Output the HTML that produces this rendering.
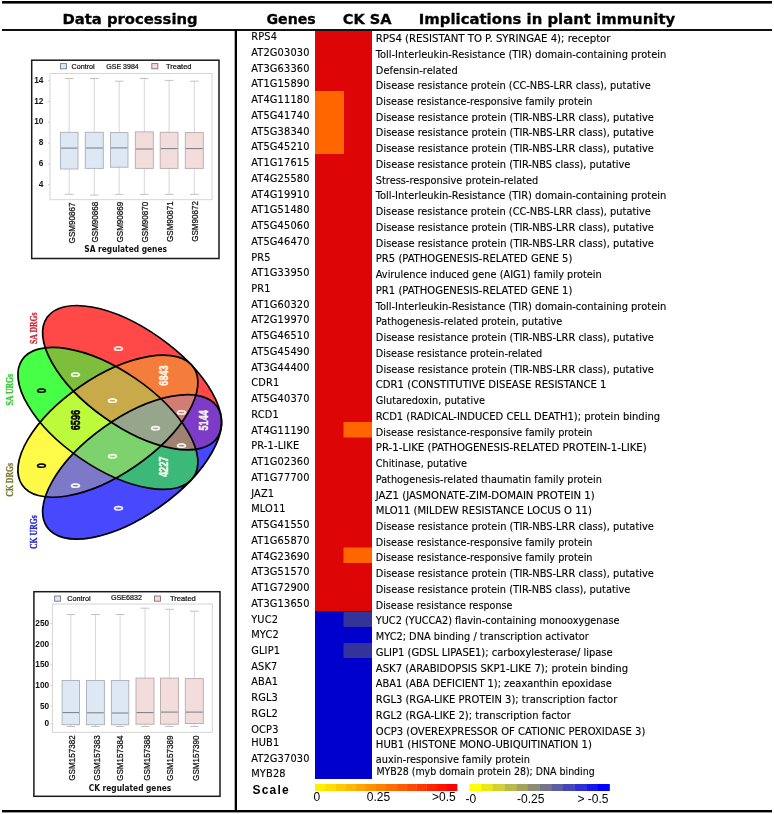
<!DOCTYPE html><html><head><meta charset="utf-8"><title>Figure</title><style>
html,body{margin:0;padding:0;background:#fff;}body{width:774px;height:814px;overflow:hidden;position:relative;}
svg{position:absolute;left:0;top:0;display:block;}
.gn{font-family:"DejaVu Sans Condensed","DejaVu Sans",sans-serif;font-size:10.9px;fill:#000;stroke:#000;stroke-width:0.12px;letter-spacing:0.18px;}
.ds{font-family:"DejaVu Sans Condensed","DejaVu Sans",sans-serif;font-size:10.9px;fill:#000;stroke:#000;stroke-width:0.12px;}
.hd{font-family:"DejaVu Sans",sans-serif;font-weight:bold;font-size:14.6px;fill:#000;stroke:#000;stroke-width:0.3px;}
.bp{font-family:"Liberation Sans",Arial,sans-serif;fill:#111;}
</style></head><body>
<svg width="774" height="814" viewBox="0 0 774 814">
<rect width="774" height="814" fill="#fff"/>
<rect x="315" y="30" width="57" height="581" fill="#DD0505"/>
<rect x="315" y="611" width="57" height="168" fill="#0000CC"/>
<rect x="315" y="91" width="29" height="63" fill="#FF6600"/>
<rect x="343.5" y="422" width="28.5" height="15.5" fill="#FF6600"/>
<rect x="343.5" y="547.5" width="28.5" height="15.5" fill="#FF6600"/>
<rect x="343.5" y="612" width="28.5" height="15" fill="#333399"/>
<rect x="343.5" y="643" width="28.5" height="15" fill="#333399"/>
<rect x="2" y="1" width="770" height="2.6" fill="#000"/>
<rect x="2" y="29" width="770" height="2" fill="#111"/>
<rect x="2" y="810" width="770" height="2.4" fill="#000"/>
<rect x="234.7" y="30" width="2.3" height="781" fill="#000"/>
<text class="hd" x="62.4" y="23.9" textLength="135.2" lengthAdjust="spacingAndGlyphs">Data processing</text>
<text class="hd" x="266.5" y="23.8" textLength="49.2" lengthAdjust="spacingAndGlyphs">Genes</text>
<text class="hd" x="342.8" y="23.8" textLength="48.8" lengthAdjust="spacingAndGlyphs">CK SA</text>
<text class="hd" x="418.8" y="23.8" textLength="256.4" lengthAdjust="spacingAndGlyphs">Implications in plant immunity</text>
<text class="gn" x="251.2" y="40.1">RPS4</text>
<text class="ds" x="375.8" y="42.0" textLength="234.7" lengthAdjust="spacingAndGlyphs">RPS4 (RESISTANT TO P. SYRINGAE 4); receptor</text>
<text class="gn" x="251.2" y="55.8">AT2G03030</text>
<text class="ds" x="375.8" y="57.7" textLength="290.5" lengthAdjust="spacingAndGlyphs">Toll-Interleukin-Resistance (TIR) domain-containing protein</text>
<text class="gn" x="251.2" y="71.6">AT3G63360</text>
<text class="ds" x="375.8" y="73.5" textLength="81.9" lengthAdjust="spacingAndGlyphs">Defensin-related</text>
<text class="gn" x="251.2" y="87.3">AT1G15890</text>
<text class="ds" x="375.8" y="89.2" textLength="275.0" lengthAdjust="spacingAndGlyphs">Disease resistance protein (CC-NBS-LRR class), putative</text>
<text class="gn" x="251.2" y="103.1">AT4G11180</text>
<text class="ds" x="375.8" y="105.0" textLength="216.7" lengthAdjust="spacingAndGlyphs">Disease resistance-responsive family protein</text>
<text class="gn" x="251.2" y="118.8">AT5G41740</text>
<text class="ds" x="375.8" y="120.7" textLength="278.1" lengthAdjust="spacingAndGlyphs">Disease resistance protein (TIR-NBS-LRR class), putative</text>
<text class="gn" x="251.2" y="134.5">AT5G38340</text>
<text class="ds" x="375.8" y="136.4" textLength="278.1" lengthAdjust="spacingAndGlyphs">Disease resistance protein (TIR-NBS-LRR class), putative</text>
<text class="gn" x="251.2" y="150.3">AT5G45210</text>
<text class="ds" x="375.8" y="152.2" textLength="278.1" lengthAdjust="spacingAndGlyphs">Disease resistance protein (TIR-NBS-LRR class), putative</text>
<text class="gn" x="251.2" y="166.0">AT1G17615</text>
<text class="ds" x="375.8" y="167.9" textLength="254.6" lengthAdjust="spacingAndGlyphs">Disease resistance protein (TIR-NBS class), putative</text>
<text class="gn" x="251.2" y="181.8">AT4G25580</text>
<text class="ds" x="375.8" y="183.7" textLength="162.5" lengthAdjust="spacingAndGlyphs">Stress-responsive protein-related</text>
<text class="gn" x="251.2" y="197.5">AT4G19910</text>
<text class="ds" x="375.8" y="199.4" textLength="290.5" lengthAdjust="spacingAndGlyphs">Toll-Interleukin-Resistance (TIR) domain-containing protein</text>
<text class="gn" x="251.2" y="213.2">AT1G51480</text>
<text class="ds" x="375.8" y="215.1" textLength="275.0" lengthAdjust="spacingAndGlyphs">Disease resistance protein (CC-NBS-LRR class), putative</text>
<text class="gn" x="251.2" y="229.0">AT5G45060</text>
<text class="ds" x="375.8" y="230.9" textLength="278.1" lengthAdjust="spacingAndGlyphs">Disease resistance protein (TIR-NBS-LRR class), putative</text>
<text class="gn" x="251.2" y="244.7">AT5G46470</text>
<text class="ds" x="375.8" y="246.6" textLength="278.1" lengthAdjust="spacingAndGlyphs">Disease resistance protein (TIR-NBS-LRR class), putative</text>
<text class="gn" x="251.2" y="260.5">PR5</text>
<text class="ds" x="375.8" y="262.4" textLength="196.6" lengthAdjust="spacingAndGlyphs">PR5 (PATHOGENESIS-RELATED GENE 5)</text>
<text class="gn" x="251.2" y="276.2">AT1G33950</text>
<text class="ds" x="375.8" y="278.1" textLength="226.0" lengthAdjust="spacingAndGlyphs">Avirulence induced gene (AIG1) family protein</text>
<text class="gn" x="251.2" y="291.9">PR1</text>
<text class="ds" x="375.8" y="293.8" textLength="196.6" lengthAdjust="spacingAndGlyphs">PR1 (PATHOGENESIS-RELATED GENE 1)</text>
<text class="gn" x="251.2" y="307.7">AT1G60320</text>
<text class="ds" x="375.8" y="309.6" textLength="290.5" lengthAdjust="spacingAndGlyphs">Toll-Interleukin-Resistance (TIR) domain-containing protein</text>
<text class="gn" x="251.2" y="323.4">AT2G19970</text>
<text class="ds" x="375.8" y="325.3" textLength="186.4" lengthAdjust="spacingAndGlyphs">Pathogenesis-related protein, putative</text>
<text class="gn" x="251.2" y="339.2">AT5G46510</text>
<text class="ds" x="375.8" y="341.1" textLength="278.1" lengthAdjust="spacingAndGlyphs">Disease resistance protein (TIR-NBS-LRR class), putative</text>
<text class="gn" x="251.2" y="354.9">AT5G45490</text>
<text class="ds" x="375.8" y="356.8" textLength="166.5" lengthAdjust="spacingAndGlyphs">Disease resistance protein-related</text>
<text class="gn" x="251.2" y="370.6">AT3G44400</text>
<text class="ds" x="375.8" y="372.5" textLength="278.1" lengthAdjust="spacingAndGlyphs">Disease resistance protein (TIR-NBS-LRR class), putative</text>
<text class="gn" x="251.2" y="386.4">CDR1</text>
<text class="ds" x="375.8" y="388.3" textLength="230.7" lengthAdjust="spacingAndGlyphs">CDR1 (CONSTITUTIVE DISEASE RESISTANCE 1</text>
<text class="gn" x="251.2" y="402.1">AT5G40370</text>
<text class="ds" x="375.8" y="404.0" textLength="109.1" lengthAdjust="spacingAndGlyphs">Glutaredoxin, putative</text>
<text class="gn" x="251.2" y="417.9">RCD1</text>
<text class="ds" x="375.8" y="419.8" textLength="284.3" lengthAdjust="spacingAndGlyphs">RCD1 (RADICAL-INDUCED CELL DEATH1); protein binding</text>
<text class="gn" x="251.2" y="433.6">AT4G11190</text>
<text class="ds" x="375.8" y="435.5" textLength="216.7" lengthAdjust="spacingAndGlyphs">Disease resistance-responsive family protein</text>
<text class="gn" x="251.2" y="449.3">PR-1-LIKE</text>
<text class="ds" x="375.8" y="451.2" textLength="271.0" lengthAdjust="spacingAndGlyphs">PR-1-LIKE (PATHOGENESIS-RELATED PROTEIN-1-LIKE)</text>
<text class="gn" x="251.2" y="465.1">AT1G02360</text>
<text class="ds" x="375.8" y="467.0" textLength="91.2" lengthAdjust="spacingAndGlyphs">Chitinase, putative</text>
<text class="gn" x="251.2" y="480.8">AT1G77700</text>
<text class="ds" x="375.8" y="482.7" textLength="226.0" lengthAdjust="spacingAndGlyphs">Pathogenesis-related thaumatin family protein</text>
<text class="gn" x="251.2" y="496.6">JAZ1</text>
<text class="ds" x="375.8" y="498.5" textLength="218.9" lengthAdjust="spacingAndGlyphs">JAZ1 (JASMONATE-ZIM-DOMAIN PROTEIN 1)</text>
<text class="gn" x="251.2" y="512.3">MLO11</text>
<text class="ds" x="375.8" y="514.2" textLength="216.1" lengthAdjust="spacingAndGlyphs">MLO11 (MILDEW RESISTANCE LOCUS O 11)</text>
<text class="gn" x="251.2" y="528.0">AT5G41550</text>
<text class="ds" x="375.8" y="529.9" textLength="278.1" lengthAdjust="spacingAndGlyphs">Disease resistance protein (TIR-NBS-LRR class), putative</text>
<text class="gn" x="251.2" y="543.8">AT1G65870</text>
<text class="ds" x="375.8" y="545.7" textLength="216.7" lengthAdjust="spacingAndGlyphs">Disease resistance-responsive family protein</text>
<text class="gn" x="251.2" y="559.5">AT4G23690</text>
<text class="ds" x="375.8" y="561.4" textLength="216.7" lengthAdjust="spacingAndGlyphs">Disease resistance-responsive family protein</text>
<text class="gn" x="251.2" y="575.3">AT3G51570</text>
<text class="ds" x="375.8" y="577.2" textLength="278.1" lengthAdjust="spacingAndGlyphs">Disease resistance protein (TIR-NBS-LRR class), putative</text>
<text class="gn" x="251.2" y="591.0">AT1G72900</text>
<text class="ds" x="375.8" y="592.9" textLength="254.6" lengthAdjust="spacingAndGlyphs">Disease resistance protein (TIR-NBS class), putative</text>
<text class="gn" x="251.2" y="606.7">AT3G13650</text>
<text class="ds" x="375.8" y="608.6" textLength="136.7" lengthAdjust="spacingAndGlyphs">Disease resistance response</text>
<text class="gn" x="251.2" y="622.5">YUC2</text>
<text class="ds" x="375.8" y="624.4" textLength="243.7" lengthAdjust="spacingAndGlyphs">YUC2 (YUCCA2) flavin-containing monooxygenase</text>
<text class="gn" x="251.2" y="638.2">MYC2</text>
<text class="ds" x="375.8" y="640.1" textLength="213.0" lengthAdjust="spacingAndGlyphs">MYC2; DNA binding / transcription activator</text>
<text class="gn" x="251.2" y="654.0">GLIP1</text>
<text class="ds" x="375.8" y="655.9" textLength="236.9" lengthAdjust="spacingAndGlyphs">GLIP1 (GDSL LIPASE1); carboxylesterase/ lipase</text>
<text class="gn" x="251.2" y="669.7">ASK7</text>
<text class="ds" x="375.8" y="671.6" textLength="252.4" lengthAdjust="spacingAndGlyphs">ASK7 (ARABIDOPSIS SKP1-LIKE 7); protein binding</text>
<text class="gn" x="251.2" y="685.4">ABA1</text>
<text class="ds" x="375.8" y="687.3" textLength="236.0" lengthAdjust="spacingAndGlyphs">ABA1 (ABA DEFICIENT 1); zeaxanthin epoxidase</text>
<text class="gn" x="251.2" y="701.2">RGL3</text>
<text class="ds" x="375.8" y="703.1" textLength="241.5" lengthAdjust="spacingAndGlyphs">RGL3 (RGA-LIKE PROTEIN 3); transcription factor</text>
<text class="gn" x="251.2" y="716.9">RGL2</text>
<text class="ds" x="375.8" y="718.8" textLength="195.0" lengthAdjust="spacingAndGlyphs">RGL2 (RGA-LIKE 2); transcription factor</text>
<text class="gn" x="251.2" y="732.7">OCP3</text>
<text class="ds" x="375.8" y="734.6" textLength="269.5" lengthAdjust="spacingAndGlyphs">OCP3 (OVEREXPRESSOR OF CATIONIC PEROXIDASE 3)</text>
<text class="gn" x="251.2" y="745.7">HUB1</text>
<text class="ds" x="375.8" y="747.5" textLength="216.1" lengthAdjust="spacingAndGlyphs">HUB1 (HISTONE MONO-UBIQUITINATION 1)</text>
<text class="gn" x="251.2" y="761.8">AT2G37030</text>
<text class="ds" x="375.8" y="762.6" textLength="154.1" lengthAdjust="spacingAndGlyphs">auxin-responsive family protein</text>
<text class="gn" x="251.2" y="777.0">MYB28</text>
<text class="ds" x="376.4" y="775.4" textLength="218.3" lengthAdjust="spacingAndGlyphs">MYB28 (myb domain protein 28); DNA binding</text>
<text x="252.5" y="794" style="font-family:'Liberation Sans',Arial,sans-serif;font-weight:bold;font-size:12px;letter-spacing:1.2px" fill="#000">Scale</text>
<rect x="315.00" y="784" width="10.44" height="7" fill="#FFF000"/>
<rect x="325.14" y="784" width="10.44" height="7" fill="#FFDE00"/>
<rect x="335.29" y="784" width="10.44" height="7" fill="#FFCB00"/>
<rect x="345.43" y="784" width="10.44" height="7" fill="#FFB900"/>
<rect x="355.57" y="784" width="10.44" height="7" fill="#FFA600"/>
<rect x="365.71" y="784" width="10.44" height="7" fill="#FF9400"/>
<rect x="375.86" y="784" width="10.44" height="7" fill="#FF8100"/>
<rect x="386.00" y="784" width="10.44" height="7" fill="#FF6F00"/>
<rect x="396.14" y="784" width="10.44" height="7" fill="#FF5C00"/>
<rect x="406.29" y="784" width="10.44" height="7" fill="#FF4A00"/>
<rect x="416.43" y="784" width="10.44" height="7" fill="#FF3700"/>
<rect x="426.57" y="784" width="10.44" height="7" fill="#FF2500"/>
<rect x="436.71" y="784" width="10.44" height="7" fill="#FF1200"/>
<rect x="446.86" y="784" width="10.44" height="7" fill="#FF0000"/>
<rect x="469.50" y="784" width="11.97" height="7" fill="#FFFF00"/>
<rect x="481.17" y="784" width="11.97" height="7" fill="#E8E817"/>
<rect x="492.83" y="784" width="11.97" height="7" fill="#D1D12F"/>
<rect x="504.50" y="784" width="11.97" height="7" fill="#BABA46"/>
<rect x="516.17" y="784" width="11.97" height="7" fill="#A3A35D"/>
<rect x="527.83" y="784" width="11.97" height="7" fill="#8C8C74"/>
<rect x="539.50" y="784" width="11.97" height="7" fill="#74748C"/>
<rect x="551.17" y="784" width="11.97" height="7" fill="#5D5DA3"/>
<rect x="562.83" y="784" width="11.97" height="7" fill="#4646BA"/>
<rect x="574.50" y="784" width="11.97" height="7" fill="#2F2FD1"/>
<rect x="586.17" y="784" width="11.97" height="7" fill="#1717E8"/>
<rect x="597.83" y="784" width="11.97" height="7" fill="#0000FF"/>
<text x="313.5" y="801" style="font-family:'Liberation Sans',Arial,sans-serif;font-size:12px">0</text>
<text x="366.8" y="801" style="font-family:'Liberation Sans',Arial,sans-serif;font-size:12px">0.25</text>
<text x="432" y="801" style="font-family:'Liberation Sans',Arial,sans-serif;font-size:12px">&gt;0.5</text>
<text x="465.5" y="802.8" style="font-family:'Liberation Sans',Arial,sans-serif;font-size:12px">-0</text>
<text x="517" y="802.8" style="font-family:'Liberation Sans',Arial,sans-serif;font-size:12px">-0.25</text>
<text x="577.5" y="802.8" style="font-family:'Liberation Sans',Arial,sans-serif;font-size:12px">&gt; -0.5</text>
<rect x="31.7" y="60.2" width="187.3" height="198.3" fill="#fff" stroke="#1a1a1a" stroke-width="1.5"/>
<rect x="50.0" y="73.5" width="162.0" height="126.2" fill="none" stroke="#d4d4d4" stroke-width="1"/>
<text class="bp" x="43.4" y="82.7" text-anchor="end" style="font-size:8.3px;font-weight:bold">14</text>
<line x1="48.0" y1="80.7" x2="50.0" y2="80.7" stroke="#ccc" stroke-width="0.8"/>
<text class="bp" x="43.4" y="103.5" text-anchor="end" style="font-size:8.3px;font-weight:bold">12</text>
<line x1="48.0" y1="101.5" x2="50.0" y2="101.5" stroke="#ccc" stroke-width="0.8"/>
<text class="bp" x="43.4" y="124.3" text-anchor="end" style="font-size:8.3px;font-weight:bold">10</text>
<line x1="48.0" y1="122.3" x2="50.0" y2="122.3" stroke="#ccc" stroke-width="0.8"/>
<text class="bp" x="43.4" y="145.1" text-anchor="end" style="font-size:8.3px;font-weight:bold">8</text>
<line x1="48.0" y1="143.1" x2="50.0" y2="143.1" stroke="#ccc" stroke-width="0.8"/>
<text class="bp" x="43.4" y="165.9" text-anchor="end" style="font-size:8.3px;font-weight:bold">6</text>
<line x1="48.0" y1="163.9" x2="50.0" y2="163.9" stroke="#ccc" stroke-width="0.8"/>
<text class="bp" x="43.4" y="186.7" text-anchor="end" style="font-size:8.3px;font-weight:bold">4</text>
<line x1="48.0" y1="184.7" x2="50.0" y2="184.7" stroke="#ccc" stroke-width="0.8"/>
<line x1="69.2" y1="78.5" x2="69.2" y2="194.4" stroke="#d2d2d2" stroke-width="0.9"/>
<line x1="65.0" y1="78.5" x2="73.5" y2="78.5" stroke="#bbb" stroke-width="0.9"/>
<line x1="65.0" y1="194.4" x2="73.5" y2="194.4" stroke="#bbb" stroke-width="0.9"/>
<rect x="60.5" y="132.3" width="17.5" height="36.7" fill="#DDE8F4" stroke="#A9AFB8" stroke-width="0.9"/>
<line x1="61.0" y1="148.1" x2="77.5" y2="148.1" stroke="#6a7078" stroke-width="0.9"/>
<line x1="94.3" y1="78.5" x2="94.3" y2="195.1" stroke="#d2d2d2" stroke-width="0.9"/>
<line x1="90.0" y1="78.5" x2="98.6" y2="78.5" stroke="#bbb" stroke-width="0.9"/>
<line x1="90.0" y1="195.1" x2="98.6" y2="195.1" stroke="#bbb" stroke-width="0.9"/>
<rect x="85.3" y="132.3" width="18.0" height="36.1" fill="#DDE8F4" stroke="#A9AFB8" stroke-width="0.9"/>
<line x1="85.8" y1="148.0" x2="102.8" y2="148.0" stroke="#6a7078" stroke-width="0.9"/>
<line x1="119.2" y1="81.2" x2="119.2" y2="194.4" stroke="#d2d2d2" stroke-width="0.9"/>
<line x1="115.0" y1="81.2" x2="123.5" y2="81.2" stroke="#bbb" stroke-width="0.9"/>
<line x1="115.0" y1="194.4" x2="123.5" y2="194.4" stroke="#bbb" stroke-width="0.9"/>
<rect x="110.5" y="132.6" width="17.5" height="34.6" fill="#DDE8F4" stroke="#A9AFB8" stroke-width="0.9"/>
<line x1="111.0" y1="147.9" x2="127.5" y2="147.9" stroke="#6a7078" stroke-width="0.9"/>
<line x1="144.3" y1="78.5" x2="144.3" y2="194.4" stroke="#d2d2d2" stroke-width="0.9"/>
<line x1="140.0" y1="78.5" x2="148.6" y2="78.5" stroke="#bbb" stroke-width="0.9"/>
<line x1="140.0" y1="194.4" x2="148.6" y2="194.4" stroke="#bbb" stroke-width="0.9"/>
<rect x="135.3" y="131.9" width="18.0" height="36.5" fill="#F3DCDC" stroke="#B9A9A9" stroke-width="0.9"/>
<line x1="135.8" y1="149.0" x2="152.8" y2="149.0" stroke="#6a7078" stroke-width="0.9"/>
<line x1="169.1" y1="80.4" x2="169.1" y2="194.4" stroke="#d2d2d2" stroke-width="0.9"/>
<line x1="164.8" y1="80.4" x2="173.4" y2="80.4" stroke="#bbb" stroke-width="0.9"/>
<line x1="164.8" y1="194.4" x2="173.4" y2="194.4" stroke="#bbb" stroke-width="0.9"/>
<rect x="160.2" y="132.3" width="17.8" height="36.1" fill="#F3DCDC" stroke="#B9A9A9" stroke-width="0.9"/>
<line x1="160.7" y1="148.6" x2="177.5" y2="148.6" stroke="#6a7078" stroke-width="0.9"/>
<line x1="194.3" y1="81.2" x2="194.3" y2="194.4" stroke="#d2d2d2" stroke-width="0.9"/>
<line x1="190.0" y1="81.2" x2="198.6" y2="81.2" stroke="#bbb" stroke-width="0.9"/>
<line x1="190.0" y1="194.4" x2="198.6" y2="194.4" stroke="#bbb" stroke-width="0.9"/>
<rect x="185.3" y="132.6" width="18.0" height="35.8" fill="#F3DCDC" stroke="#B9A9A9" stroke-width="0.9"/>
<line x1="185.8" y1="148.6" x2="202.8" y2="148.6" stroke="#6a7078" stroke-width="0.9"/>
<text class="bp" transform="translate(75.2,202.6) rotate(-90)" text-anchor="end" style="font-size:8.7px" stroke="#111" stroke-width="0.25" textLength="40.8" lengthAdjust="spacingAndGlyphs">GSM90867</text>
<text class="bp" transform="translate(98.1,201.7) rotate(-90)" text-anchor="end" style="font-size:8.7px" stroke="#111" stroke-width="0.25" textLength="40.8" lengthAdjust="spacingAndGlyphs">GSM90868</text>
<text class="bp" transform="translate(123.1,201.7) rotate(-90)" text-anchor="end" style="font-size:8.7px" stroke="#111" stroke-width="0.25" textLength="40.8" lengthAdjust="spacingAndGlyphs">GSM90869</text>
<text class="bp" transform="translate(147.9,201.7) rotate(-90)" text-anchor="end" style="font-size:8.7px" stroke="#111" stroke-width="0.25" textLength="40.8" lengthAdjust="spacingAndGlyphs">GSM90870</text>
<text class="bp" transform="translate(173.0,201.2) rotate(-90)" text-anchor="end" style="font-size:8.7px" stroke="#111" stroke-width="0.25" textLength="40.8" lengthAdjust="spacingAndGlyphs">GSM90871</text>
<text class="bp" transform="translate(198.3,201.0) rotate(-90)" text-anchor="end" style="font-size:8.7px" stroke="#111" stroke-width="0.25" textLength="40.8" lengthAdjust="spacingAndGlyphs">GSM90872</text>
<text x="84.3" y="251.7" style="font-family:'DejaVu Sans',sans-serif;font-size:8px;font-weight:bold" fill="#111" textLength="82.6" lengthAdjust="spacingAndGlyphs">SA regulated genes</text>
<rect x="60.4" y="63.6" width="6" height="5.2" fill="#DDE8F4" stroke="#707a88" stroke-width="0.9"/>
<text class="bp" x="71.5" y="68.9" style="font-size:7.4px" stroke="#111" stroke-width="0.22" textLength="23.2" lengthAdjust="spacingAndGlyphs">Control</text>
<text class="bp" x="106.3" y="68.9" style="font-size:7.4px" stroke="#111" stroke-width="0.22" textLength="32.5" lengthAdjust="spacingAndGlyphs">GSE 3984</text>
<rect x="151.8" y="63.6" width="6" height="5.2" fill="#F3DCDC" stroke="#8a7070" stroke-width="0.9"/>
<text class="bp" x="166.0" y="68.9" style="font-size:7.4px" stroke="#111" stroke-width="0.22" textLength="25.5" lengthAdjust="spacingAndGlyphs">Treated</text>
<rect x="33.9" y="591.7" width="186.1" height="204.6" fill="#fff" stroke="#1a1a1a" stroke-width="1.5"/>
<rect x="52.4" y="604.0" width="159.9" height="128.3" fill="none" stroke="#d4d4d4" stroke-width="1"/>
<text class="bp" x="49.2" y="626.0" text-anchor="end" style="font-size:8.3px;font-weight:bold">250</text>
<line x1="50.4" y1="623.4" x2="52.4" y2="623.4" stroke="#ccc" stroke-width="0.8"/>
<text class="bp" x="49.2" y="646.7" text-anchor="end" style="font-size:8.3px;font-weight:bold">200</text>
<line x1="50.4" y1="644.1" x2="52.4" y2="644.1" stroke="#ccc" stroke-width="0.8"/>
<text class="bp" x="49.2" y="667.4" text-anchor="end" style="font-size:8.3px;font-weight:bold">150</text>
<line x1="50.4" y1="664.8" x2="52.4" y2="664.8" stroke="#ccc" stroke-width="0.8"/>
<text class="bp" x="49.2" y="688.1" text-anchor="end" style="font-size:8.3px;font-weight:bold">100</text>
<line x1="50.4" y1="685.5" x2="52.4" y2="685.5" stroke="#ccc" stroke-width="0.8"/>
<text class="bp" x="49.2" y="708.8" text-anchor="end" style="font-size:8.3px;font-weight:bold">50</text>
<line x1="50.4" y1="706.2" x2="52.4" y2="706.2" stroke="#ccc" stroke-width="0.8"/>
<text class="bp" x="49.2" y="726.4" text-anchor="end" style="font-size:8.3px;font-weight:bold">0</text>
<line x1="50.4" y1="723.8" x2="52.4" y2="723.8" stroke="#ccc" stroke-width="0.8"/>
<line x1="70.8" y1="614.5" x2="70.8" y2="726.5" stroke="#d2d2d2" stroke-width="0.9"/>
<line x1="66.5" y1="614.5" x2="75.1" y2="614.5" stroke="#bbb" stroke-width="0.9"/>
<line x1="66.5" y1="726.5" x2="75.1" y2="726.5" stroke="#bbb" stroke-width="0.9"/>
<rect x="62.1" y="680.5" width="17.4" height="44.2" fill="#DDE8F4" stroke="#A9AFB8" stroke-width="0.9"/>
<line x1="62.6" y1="712.6" x2="79.0" y2="712.6" stroke="#6a7078" stroke-width="0.9"/>
<line x1="95.5" y1="614.5" x2="95.5" y2="726.5" stroke="#d2d2d2" stroke-width="0.9"/>
<line x1="91.2" y1="614.5" x2="99.8" y2="614.5" stroke="#bbb" stroke-width="0.9"/>
<line x1="91.2" y1="726.5" x2="99.8" y2="726.5" stroke="#bbb" stroke-width="0.9"/>
<rect x="86.5" y="680.5" width="17.9" height="44.2" fill="#DDE8F4" stroke="#A9AFB8" stroke-width="0.9"/>
<line x1="87.0" y1="712.8" x2="103.9" y2="712.8" stroke="#6a7078" stroke-width="0.9"/>
<line x1="120.1" y1="614.5" x2="120.1" y2="726.5" stroke="#d2d2d2" stroke-width="0.9"/>
<line x1="115.8" y1="614.5" x2="124.4" y2="614.5" stroke="#bbb" stroke-width="0.9"/>
<line x1="115.8" y1="726.5" x2="124.4" y2="726.5" stroke="#bbb" stroke-width="0.9"/>
<rect x="111.4" y="680.5" width="17.4" height="44.2" fill="#DDE8F4" stroke="#A9AFB8" stroke-width="0.9"/>
<line x1="111.9" y1="713.0" x2="128.3" y2="713.0" stroke="#6a7078" stroke-width="0.9"/>
<line x1="145.0" y1="608.2" x2="145.0" y2="726.5" stroke="#d2d2d2" stroke-width="0.9"/>
<line x1="140.7" y1="608.2" x2="149.3" y2="608.2" stroke="#bbb" stroke-width="0.9"/>
<line x1="140.7" y1="726.5" x2="149.3" y2="726.5" stroke="#bbb" stroke-width="0.9"/>
<rect x="136.0" y="678.1" width="18.0" height="46.1" fill="#F3DCDC" stroke="#B9A9A9" stroke-width="0.9"/>
<line x1="136.5" y1="712.6" x2="153.5" y2="712.6" stroke="#6a7078" stroke-width="0.9"/>
<line x1="169.4" y1="609.3" x2="169.4" y2="726.5" stroke="#d2d2d2" stroke-width="0.9"/>
<line x1="165.1" y1="609.3" x2="173.8" y2="609.3" stroke="#bbb" stroke-width="0.9"/>
<line x1="165.1" y1="726.5" x2="173.8" y2="726.5" stroke="#bbb" stroke-width="0.9"/>
<rect x="160.5" y="678.1" width="17.9" height="46.1" fill="#F3DCDC" stroke="#B9A9A9" stroke-width="0.9"/>
<line x1="161.0" y1="712.1" x2="177.9" y2="712.1" stroke="#6a7078" stroke-width="0.9"/>
<line x1="194.3" y1="611.2" x2="194.3" y2="726.5" stroke="#d2d2d2" stroke-width="0.9"/>
<line x1="190.0" y1="611.2" x2="198.6" y2="611.2" stroke="#bbb" stroke-width="0.9"/>
<line x1="190.0" y1="726.5" x2="198.6" y2="726.5" stroke="#bbb" stroke-width="0.9"/>
<rect x="185.3" y="678.6" width="18.0" height="44.9" fill="#F3DCDC" stroke="#B9A9A9" stroke-width="0.9"/>
<line x1="185.8" y1="712.1" x2="202.8" y2="712.1" stroke="#6a7078" stroke-width="0.9"/>
<text class="bp" transform="translate(75.0,735.2) rotate(-90)" text-anchor="end" style="font-size:9.0px" stroke="#111" stroke-width="0.25" textLength="45.5" lengthAdjust="spacingAndGlyphs">GSM157382</text>
<text class="bp" transform="translate(99.5,735.2) rotate(-90)" text-anchor="end" style="font-size:9.0px" stroke="#111" stroke-width="0.25" textLength="45.5" lengthAdjust="spacingAndGlyphs">GSM157383</text>
<text class="bp" transform="translate(123.3,735.4) rotate(-90)" text-anchor="end" style="font-size:9.0px" stroke="#111" stroke-width="0.25" textLength="45.5" lengthAdjust="spacingAndGlyphs">GSM157384</text>
<text class="bp" transform="translate(149.5,735.2) rotate(-90)" text-anchor="end" style="font-size:9.0px" stroke="#111" stroke-width="0.25" textLength="45.5" lengthAdjust="spacingAndGlyphs">GSM157388</text>
<text class="bp" transform="translate(173.2,735.4) rotate(-90)" text-anchor="end" style="font-size:9.0px" stroke="#111" stroke-width="0.25" textLength="45.5" lengthAdjust="spacingAndGlyphs">GSM157389</text>
<text class="bp" transform="translate(199.0,735.4) rotate(-90)" text-anchor="end" style="font-size:9.0px" stroke="#111" stroke-width="0.25" textLength="45.5" lengthAdjust="spacingAndGlyphs">GSM157390</text>
<text x="88.8" y="790.8" style="font-family:'DejaVu Sans',sans-serif;font-size:8px;font-weight:bold" fill="#111" textLength="82.4" lengthAdjust="spacingAndGlyphs">CK regulated genes</text>
<rect x="54.6" y="596.0" width="6" height="5.2" fill="#DDE8F4" stroke="#707a88" stroke-width="0.9"/>
<text class="bp" x="67.2" y="601.3" style="font-size:7.4px" stroke="#111" stroke-width="0.22" textLength="23.4" lengthAdjust="spacingAndGlyphs">Control</text>
<text class="bp" x="110.9" y="600.3" style="font-size:7.4px" stroke="#111" stroke-width="0.22" textLength="31.0" lengthAdjust="spacingAndGlyphs">GSE6832</text>
<rect x="154.5" y="596.0" width="6" height="5.2" fill="#F3DCDC" stroke="#8a7070" stroke-width="0.9"/>
<text class="bp" x="170.0" y="601.3" style="font-size:7.4px" stroke="#111" stroke-width="0.22" textLength="25.8" lengthAdjust="spacingAndGlyphs">Treated</text>
<defs>
<clipPath id="cR"><ellipse cx="132.10" cy="377.70" rx="104.20" ry="48.60" transform="rotate(35.40 132.10 377.70)" /></clipPath>
<clipPath id="cB"><ellipse cx="132.10" cy="466.90" rx="104.20" ry="48.60" transform="rotate(-35.40 132.10 466.90)" /></clipPath>
<clipPath id="cG"><ellipse cx="107.90" cy="418.40" rx="103.90" ry="48.50" transform="rotate(34.40 107.90 418.40)" /></clipPath>
<clipPath id="cY"><ellipse cx="107.90" cy="426.20" rx="103.90" ry="48.50" transform="rotate(-34.40 107.90 426.20)" /></clipPath>
</defs>
<ellipse cx="132.10" cy="377.70" rx="104.20" ry="48.60" transform="rotate(35.40 132.10 377.70)" fill="#FF4848"/>
<ellipse cx="107.90" cy="418.40" rx="103.90" ry="48.50" transform="rotate(34.40 107.90 418.40)" fill="#48FF48"/>
<ellipse cx="107.90" cy="426.20" rx="103.90" ry="48.50" transform="rotate(-34.40 107.90 426.20)" fill="#FFFA48"/>
<ellipse cx="132.10" cy="466.90" rx="104.20" ry="48.60" transform="rotate(-35.40 132.10 466.90)" fill="#4848FF"/>
<g clip-path="url(#cG)"><g clip-path="url(#cR)"><rect x="0" y="280" width="235" height="280" fill="#7DBE3C"/></g></g>
<g clip-path="url(#cY)"><g clip-path="url(#cR)"><rect x="0" y="280" width="235" height="280" fill="#F57D3C"/></g></g>
<g clip-path="url(#cB)"><g clip-path="url(#cR)"><rect x="0" y="280" width="235" height="280" fill="#7D3CC8"/></g></g>
<g clip-path="url(#cY)"><g clip-path="url(#cG)"><rect x="0" y="280" width="235" height="280" fill="#BEFA3C"/></g></g>
<g clip-path="url(#cB)"><g clip-path="url(#cG)"><rect x="0" y="280" width="235" height="280" fill="#3CB978"/></g></g>
<g clip-path="url(#cB)"><g clip-path="url(#cY)"><rect x="0" y="280" width="235" height="280" fill="#7D78C8"/></g></g>
<g clip-path="url(#cY)"><g clip-path="url(#cG)"><g clip-path="url(#cR)"><rect x="0" y="280" width="235" height="280" fill="#C8AA4B"/></g></g></g>
<g clip-path="url(#cB)"><g clip-path="url(#cG)"><g clip-path="url(#cR)"><rect x="0" y="280" width="235" height="280" fill="#A08273"/></g></g></g>
<g clip-path="url(#cB)"><g clip-path="url(#cY)"><g clip-path="url(#cR)"><rect x="0" y="280" width="235" height="280" fill="#D27D73"/></g></g></g>
<g clip-path="url(#cB)"><g clip-path="url(#cY)"><g clip-path="url(#cG)"><rect x="0" y="280" width="235" height="280" fill="#7DD26E"/></g></g></g>
<g clip-path="url(#cB)"><g clip-path="url(#cY)"><g clip-path="url(#cG)"><g clip-path="url(#cR)"><rect x="0" y="280" width="235" height="280" fill="#96A58C"/></g></g></g></g>
<ellipse cx="132.10" cy="377.70" rx="104.20" ry="48.60" transform="rotate(35.40 132.10 377.70)" fill="none" stroke="#000" stroke-width="1.7"/>
<ellipse cx="132.10" cy="466.90" rx="104.20" ry="48.60" transform="rotate(-35.40 132.10 466.90)" fill="none" stroke="#000" stroke-width="1.7"/>
<ellipse cx="107.90" cy="418.40" rx="103.90" ry="48.50" transform="rotate(34.40 107.90 418.40)" fill="none" stroke="#000" stroke-width="1.7"/>
<ellipse cx="107.90" cy="426.20" rx="103.90" ry="48.50" transform="rotate(-34.40 107.90 426.20)" fill="none" stroke="#000" stroke-width="1.7"/>
<text transform="translate(118.5,348.8) rotate(-90) scale(0.745,1)" text-anchor="middle" dy="4.4" style="font-family:'Liberation Sans',Arial,sans-serif;font-size:12.3px;font-weight:bold" fill="#FFFFF4" stroke="#FFFFF4" stroke-width="0.5" fill-opacity="0.9" stroke-opacity="0.9">0</text>
<text transform="translate(75.5,374.6) rotate(-90) scale(0.745,1)" text-anchor="middle" dy="4.4" style="font-family:'Liberation Sans',Arial,sans-serif;font-size:12.3px;font-weight:bold" fill="#FFFFF4" stroke="#FFFFF4" stroke-width="0.5" fill-opacity="0.9" stroke-opacity="0.9">0</text>
<text transform="translate(163.9,375.5) rotate(-90) scale(0.745,1)" text-anchor="middle" dy="4.4" style="font-family:'Liberation Sans',Arial,sans-serif;font-size:12.3px;font-weight:bold" fill="#FFFFF4" stroke="#FFFFF4" stroke-width="0.5" fill-opacity="0.9" stroke-opacity="0.9">6843</text>
<text transform="translate(41.6,390.8) rotate(-90) scale(0.745,1)" text-anchor="middle" dy="4.4" style="font-family:'Liberation Sans',Arial,sans-serif;font-size:12.3px;font-weight:bold" fill="#000" stroke="#000" stroke-width="0.5">0</text>
<text transform="translate(112.7,400.7) rotate(-90) scale(0.745,1)" text-anchor="middle" dy="4.4" style="font-family:'Liberation Sans',Arial,sans-serif;font-size:12.3px;font-weight:bold" fill="#FFFFF4" stroke="#FFFFF4" stroke-width="0.5" fill-opacity="0.9" stroke-opacity="0.9">0</text>
<text transform="translate(75.5,420.1) rotate(-90) scale(0.745,1)" text-anchor="middle" dy="4.4" style="font-family:'Liberation Sans',Arial,sans-serif;font-size:12.3px;font-weight:bold" fill="#000" stroke="#000" stroke-width="0.5">6596</text>
<text transform="translate(181.7,412.4) rotate(-90) scale(0.745,1)" text-anchor="middle" dy="4.4" style="font-family:'Liberation Sans',Arial,sans-serif;font-size:12.3px;font-weight:bold" fill="#FFFFF4" stroke="#FFFFF4" stroke-width="0.5" fill-opacity="0.9" stroke-opacity="0.9">0</text>
<text transform="translate(203.6,420.3) rotate(-90) scale(0.745,1)" text-anchor="middle" dy="4.4" style="font-family:'Liberation Sans',Arial,sans-serif;font-size:12.3px;font-weight:bold" fill="#FFFFF4" stroke="#FFFFF4" stroke-width="0.5" fill-opacity="0.9" stroke-opacity="0.9">5144</text>
<text transform="translate(155.2,428.3) rotate(-90) scale(0.745,1)" text-anchor="middle" dy="4.4" style="font-family:'Liberation Sans',Arial,sans-serif;font-size:12.3px;font-weight:bold" fill="#FFFFF4" stroke="#FFFFF4" stroke-width="0.5" fill-opacity="0.9" stroke-opacity="0.9">0</text>
<text transform="translate(181.4,445.6) rotate(-90) scale(0.745,1)" text-anchor="middle" dy="4.4" style="font-family:'Liberation Sans',Arial,sans-serif;font-size:12.3px;font-weight:bold" fill="#FFFFF4" stroke="#FFFFF4" stroke-width="0.5" fill-opacity="0.9" stroke-opacity="0.9">0</text>
<text transform="translate(112.7,456.1) rotate(-90) scale(0.745,1)" text-anchor="middle" dy="4.4" style="font-family:'Liberation Sans',Arial,sans-serif;font-size:12.3px;font-weight:bold" fill="#FFFFF4" stroke="#FFFFF4" stroke-width="0.5" fill-opacity="0.9" stroke-opacity="0.9">0</text>
<text transform="translate(41.4,465.8) rotate(-90) scale(0.745,1)" text-anchor="middle" dy="4.4" style="font-family:'Liberation Sans',Arial,sans-serif;font-size:12.3px;font-weight:bold" fill="#000" stroke="#000" stroke-width="0.5">0</text>
<text transform="translate(163.9,466.8) rotate(-90) scale(0.745,1)" text-anchor="middle" dy="4.4" style="font-family:'Liberation Sans',Arial,sans-serif;font-size:12.3px;font-weight:bold" fill="#FFFFF4" stroke="#FFFFF4" stroke-width="0.5" fill-opacity="0.9" stroke-opacity="0.9">4227</text>
<text transform="translate(75.5,485.6) rotate(-90) scale(0.745,1)" text-anchor="middle" dy="4.4" style="font-family:'Liberation Sans',Arial,sans-serif;font-size:12.3px;font-weight:bold" fill="#FFFFF4" stroke="#FFFFF4" stroke-width="0.5" fill-opacity="0.9" stroke-opacity="0.9">0</text>
<text transform="translate(118.5,508.2) rotate(-90) scale(0.745,1)" text-anchor="middle" dy="4.4" style="font-family:'Liberation Sans',Arial,sans-serif;font-size:12.3px;font-weight:bold" fill="#FFFFF4" stroke="#FFFFF4" stroke-width="0.5" fill-opacity="0.9" stroke-opacity="0.9">0</text>
<text transform="translate(36.9,344.0) rotate(-90) scale(0.68,1)" style="font-family:'Liberation Serif',serif;font-size:11.4px;font-weight:bold" fill="#CC2B36" stroke="#CC2B36" stroke-width="0.35">SA DRGs</text>
<text transform="translate(13.0,405.5) rotate(-90) scale(0.68,1)" style="font-family:'Liberation Serif',serif;font-size:11.4px;font-weight:bold" fill="#2FCB2F" stroke="#2FCB2F" stroke-width="0.35">SA URGs</text>
<text transform="translate(13.0,496.7) rotate(-90) scale(0.68,1)" style="font-family:'Liberation Serif',serif;font-size:11.4px;font-weight:bold" fill="#7F7A35" stroke="#7F7A35" stroke-width="0.35">CK DRGs</text>
<text transform="translate(36.8,549.0) rotate(-90) scale(0.68,1)" style="font-family:'Liberation Serif',serif;font-size:11.4px;font-weight:bold" fill="#2B2BC8" stroke="#2B2BC8" stroke-width="0.35">CK URGs</text>
</svg></body></html>
